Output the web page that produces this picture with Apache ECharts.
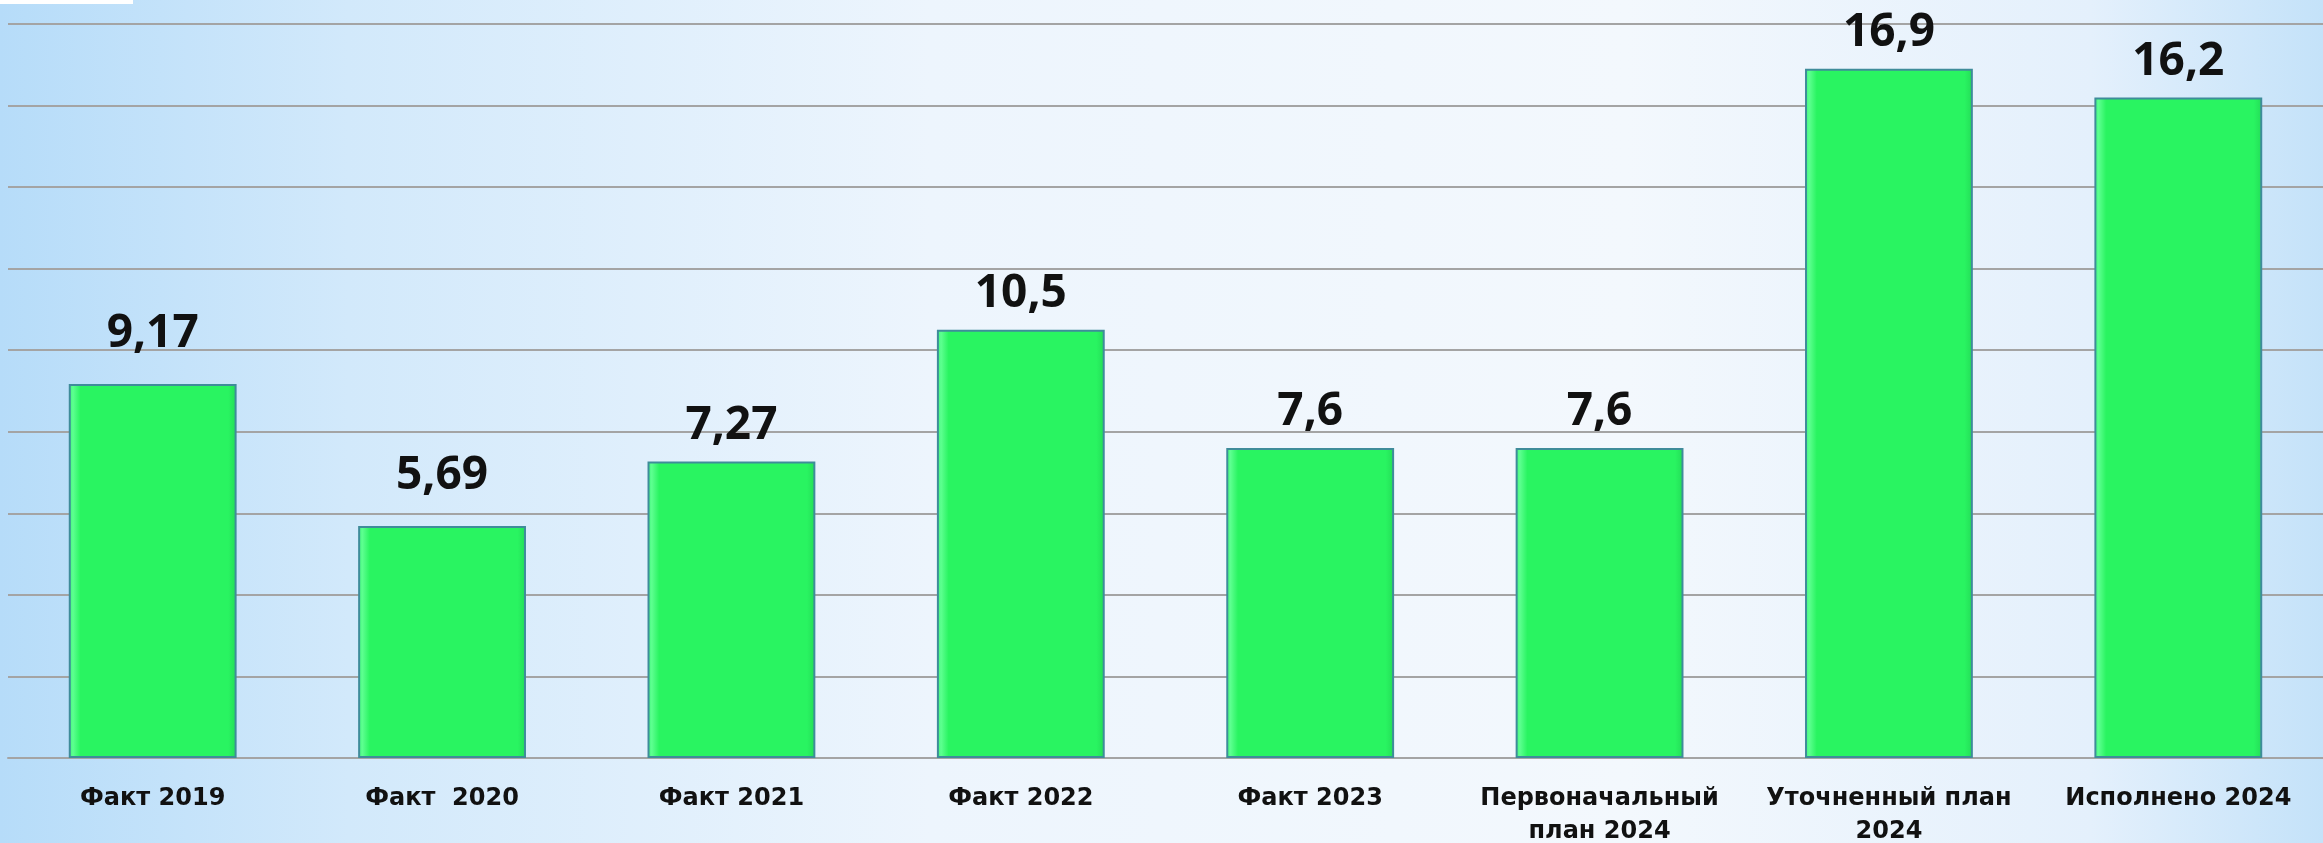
<!DOCTYPE html>
<html lang="ru">
<head>
    <meta charset="UTF-8">
    <title>Факт и план</title>
    <script src="https://cdn.jsdelivr.net/npm/echarts@6/dist/echarts.min.js"></script>
    <style>
        html, body { margin: 0; padding: 0; }
        #main { width: 2323px; height: 843px; }
    </style>
</head>
<body>
    <div id="main"></div>
    <script>
        // data
        const categories = ['Факт 2019', 'Факт  2020', 'Факт 2021', 'Факт 2022', 'Факт 2023',
            'Первоначальный\nплан 2024', 'Уточненный план\n2024', 'Исполнено 2024'];
        const values = [9.17, 5.69, 7.27, 10.5, 7.6, 7.6, 16.9, 16.2];
        const valueLabels = ['9,17', '5,69', '7,27', '10,5', '7,6', '7,6', '16,9', '16,2'];

        const chart = echarts.init(document.getElementById('main'));

        const barFill = {
            type: 'linear', x: 0, y: 0, x2: 1, y2: 0,
            colorStops: [
                { offset: 0, color: '#3cf978' },
                { offset: 0.025, color: '#5dff90' },
                { offset: 0.07, color: '#29f461' },
                { offset: 0.95, color: '#29f461' },
                { offset: 1, color: '#23dc57' }
            ]
        };

        const option = {
            backgroundColor: {
                type: 'linear', x: 0, y: 0, x2: 1, y2: 0,
                colorStops: [
                    { offset: 0, color: '#b6dcf9' },
                    { offset: 0.15, color: '#d2e9fb' },
                    { offset: 0.4, color: '#edf5fd' },
                    { offset: 0.7, color: '#f3f8fd' },
                    { offset: 0.9, color: '#e4f0fc' },
                    { offset: 1, color: '#c4e2f9' }
                ]
            },
            animation: false,
            graphic: [{
                type: 'rect',
                shape: { x: 0, y: 0, width: 133, height: 4 },
                style: { fill: '#ffffff' }
            }],
            // keep the plot box fixed, labels may run to the bottom edge
            grid: { left: 8, right: 0, top: 24, bottom: 85, outerBoundsMode: 'none' },
            xAxis: {
                type: 'category',
                data: categories,
                axisTick: { show: false },
                axisLine: { lineStyle: { color: '#a4a4a4', width: 2 } },
                axisLabel: {
                    interval: 0,
                    margin: 24,
                    color: '#111',
                    fontFamily: 'DejaVu Sans',
                    fontWeight: 'bold',
                    fontSize: 24,
                    lineHeight: 33
                }
            },
            yAxis: {
                type: 'value',
                min: 0,
                max: 18,
                interval: 2,
                axisLabel: { show: false },
                axisLine: { show: false },
                axisTick: { show: false },
                splitLine: { lineStyle: { color: '#a4a4a4', width: 2 } }
            },
            series: [{
                type: 'bar',
                barCategoryGap: '42%',
                itemStyle: {
                    color: barFill,
                    borderColor: '#3f8c9a',
                    borderWidth: 2
                },
                label: {
                    show: true,
                    position: 'top',
                    color: '#111',
                    fontFamily: 'Open Sans',
                    fontWeight: 'bold',
                    fontSize: 46,
                    formatter: p => valueLabels[p.dataIndex]
                },
                // the first two labels sit a little higher in the original
                data: values.map((v, i) => ({
                    value: v,
                    label: { distance: i < 2 ? 27 : 13 }
                }))
            }]
        };

        chart.setOption(option);
    </script>
</body>
</html>
